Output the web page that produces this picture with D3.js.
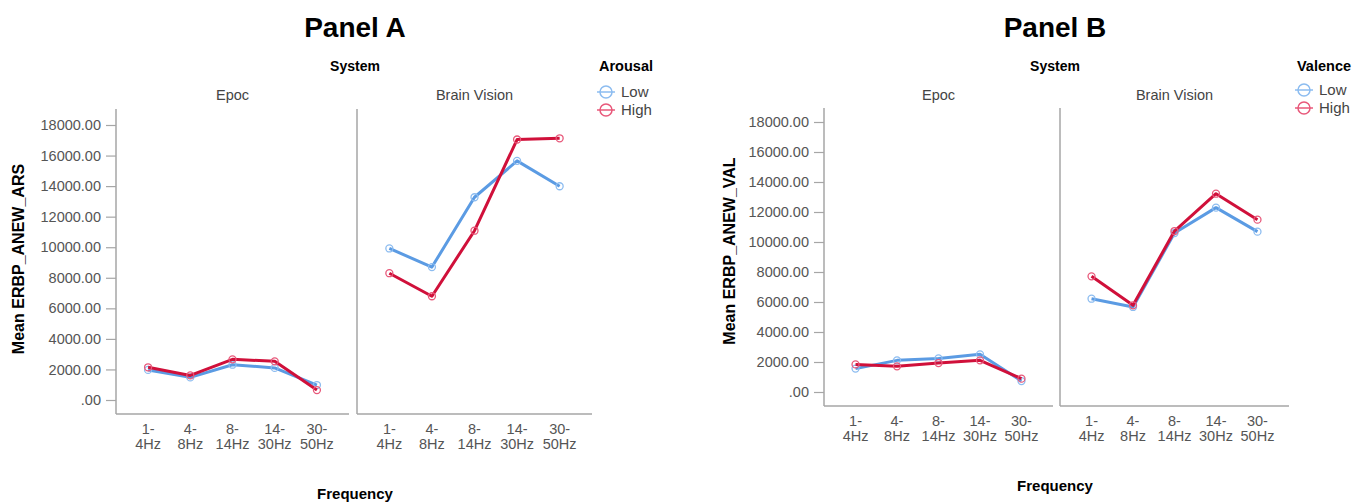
<!DOCTYPE html>
<html>
<head>
<meta charset="utf-8">
<script src="https://cdn.jsdelivr.net/npm/d3@7"></script>
<style>
  body { margin: 0; background: #fff; }
  text { font-family: "Liberation Sans", Arial, sans-serif; }
</style>
</head>
<body>
<div id="chart"></div>
<script>
// Data
const frequencies = ["1-4Hz", "4-8Hz", "8-14Hz", "14-30Hz", "30-50Hz"];
const systems = ["Epoc", "Brain Vision"];
const levels = ["Low", "High"];
const yTicks = [0, 2000, 4000, 6000, 8000, 10000, 12000, 14000, 16000, 18000];

// Panel A - Arousal
const arousalLowEpoc = [1970, 1480, 2310, 2100, 980];
const arousalHighEpoc = [2140, 1610, 2660, 2530, 650];
const arousalLowBV = [9920, 8700, 13270, 15650, 13990];
const arousalHighBV = [8300, 6790, 11080, 17050, 17130];

// Panel B - Valence
const valenceLowEpoc = [1560, 2110, 2240, 2510, 730];
const valenceHighEpoc = [1840, 1710, 1930, 2110, 890];
const valenceLowBV = [6220, 5670, 10600, 12290, 10690];
const valenceHighBV = [7710, 5780, 10730, 13220, 11490];

const colors = { Low: "#5b9be3", High: "#d0103a" };
const markerColors = { Low: "#8cbcf0", High: "#e8587a" };

const width = 1370, height = 504;
const svg = d3.select("#chart").append("svg")
    .attr("width", width)
    .attr("height", height);

function drawPanel(cfg) {
    const g = svg.append("g");

    const y = d3.scaleLinear()
        .domain([0, 18000])
        .range([cfg.zeroY, cfg.topTickY]);

    // Panel title
    g.append("text")
        .attr("x", cfg.titleX).attr("y", 37)
        .attr("text-anchor", "middle")
        .style("font-size", "28px").style("font-weight", "bold")
        .text(cfg.title);

    g.append("text")
        .attr("x", cfg.titleX).attr("y", 71)
        .attr("text-anchor", "middle")
        .style("font-size", "14px").style("font-weight", "bold")
        .text("System");

    cfg.facets.forEach((f, i) => {
        const x = d3.scalePoint()
            .domain(frequencies)
            .range([f.x0, f.x1])
            .padding(0.76);

        // facet label
        g.append("text")
            .attr("x", (f.x0 + f.x1) / 2).attr("y", 100)
            .attr("text-anchor", "middle")
            .style("font-size", "14.5px").attr("fill", "#444")
            .text(systems[i]);

        // left axis line
        g.append("line")
            .attr("x1", f.x0).attr("x2", f.x0)
            .attr("y1", cfg.axisTop).attr("y2", cfg.baseY)
            .attr("stroke", "#a6a6a6").attr("stroke-width", 1.5);
        // baseline
        g.append("line")
            .attr("x1", f.x0).attr("x2", f.x1)
            .attr("y1", cfg.baseY).attr("y2", cfg.baseY)
            .attr("stroke", "#a6a6a6").attr("stroke-width", 1.5);

        if (i === 0) {
            const yAxis = d3.axisLeft(y)
                .tickValues(yTicks)
                .tickSize(10)
                .tickPadding(5)
                .tickFormat(d => d === 0 ? ".00" : d3.format(".2f")(d));
            const ax = g.append("g")
                .attr("transform", `translate(${f.x0},0)`)
                .call(yAxis);
            ax.select(".domain").remove();
            ax.selectAll(".tick line").attr("stroke", "#a6a6a6").attr("stroke-width", 1.2);
            ax.selectAll(".tick text")
                .attr("fill", "#555")
                .style("font-size", "14.5px")
                .style("font-family", "'Liberation Sans', Arial, sans-serif");
        }

        // x tick labels, two lines
        frequencies.forEach(fr => {
            const parts = fr.split("-");
            const t = g.append("text")
                .attr("x", x(fr))
                .attr("text-anchor", "middle")
                .attr("fill", "#555")
                .style("font-size", "14.5px");
            t.append("tspan").attr("x", x(fr)).attr("y", cfg.baseY + 20).text(parts[0] + "-");
            t.append("tspan").attr("x", x(fr)).attr("y", cfg.baseY + 35).text(parts[1]);
        });

        const line = d3.line()
            .x((d, j) => x(frequencies[j]))
            .y(d => y(d));

        levels.forEach(lv => {
            const vals = f.series[lv];
            g.append("path")
                .datum(vals)
                .attr("d", line)
                .attr("fill", "none")
                .attr("stroke", colors[lv])
                .attr("stroke-width", 3)
                .attr("stroke-linejoin", "round");
            g.selectAll(null)
                .data(vals)
                .enter().append("circle")
                .attr("cx", (d, j) => x(frequencies[j]))
                .attr("cy", d => y(d))
                .attr("r", 3.5)
                .attr("fill", "none")
                .attr("stroke", markerColors[lv])
                .attr("stroke-width", 1.3);
        });
    });

    // y-axis title
    g.append("text")
        .attr("transform", `translate(${cfg.yTitleX},${cfg.yTitleY}) rotate(-90)`)
        .attr("text-anchor", "middle")
        .style("font-size", "16px").style("font-weight", "bold")
        .text(cfg.yTitle);

    // x-axis title
    g.append("text")
        .attr("x", cfg.titleX).attr("y", cfg.freqY)
        .attr("text-anchor", "middle")
        .style("font-size", "15px").style("font-weight", "bold")
        .text("Frequency");

    // legend
    g.append("text")
        .attr("x", cfg.legendX).attr("y", 71)
        .style("font-size", "14.5px").style("font-weight", "bold")
        .text(cfg.legendTitle);
    levels.forEach((lv, k) => {
        const ly = cfg.legendY + k * 18;
        g.append("line")
            .attr("x1", cfg.legendX - 2).attr("x2", cfg.legendX + 16)
            .attr("y1", ly).attr("y2", ly)
            .attr("stroke", markerColors[lv]).attr("stroke-width", 1.5);
        g.append("circle")
            .attr("cx", cfg.legendX + 7).attr("cy", ly).attr("r", 6)
            .attr("fill", "none")
            .attr("stroke", markerColors[lv]).attr("stroke-width", 1.5);
        g.append("text")
            .attr("x", cfg.legendX + 22).attr("y", ly + 5)
            .attr("fill", "#444")
            .style("font-size", "15px")
            .text(lv);
    });
}

drawPanel({
    title: "Panel A", titleX: 355,
    zeroY: 400, topTickY: 125, axisTop: 109, baseY: 414,
    yTitle: "Mean ERBP_ANEW_ARS", yTitleX: 24, yTitleY: 259,
    freqY: 499,
    legendTitle: "Arousal", legendX: 599, legendY: 92,
    facets: [
        { x0: 116, x1: 349, series: { Low: arousalLowEpoc, High: arousalHighEpoc } },
        { x0: 357, x1: 592, series: { Low: arousalLowBV, High: arousalHighBV } }
    ]
});

drawPanel({
    title: "Panel B", titleX: 1055,
    zeroY: 392, topTickY: 122, axisTop: 108, baseY: 406,
    yTitle: "Mean ERBP_ANEW_VAL", yTitleX: 735, yTitleY: 251,
    freqY: 491,
    legendTitle: "Valence", legendX: 1297, legendY: 90,
    facets: [
        { x0: 824, x1: 1053, series: { Low: valenceLowEpoc, High: valenceHighEpoc } },
        { x0: 1060, x1: 1289, series: { Low: valenceLowBV, High: valenceHighBV } }
    ]
});
</script>
</body>
</html>
